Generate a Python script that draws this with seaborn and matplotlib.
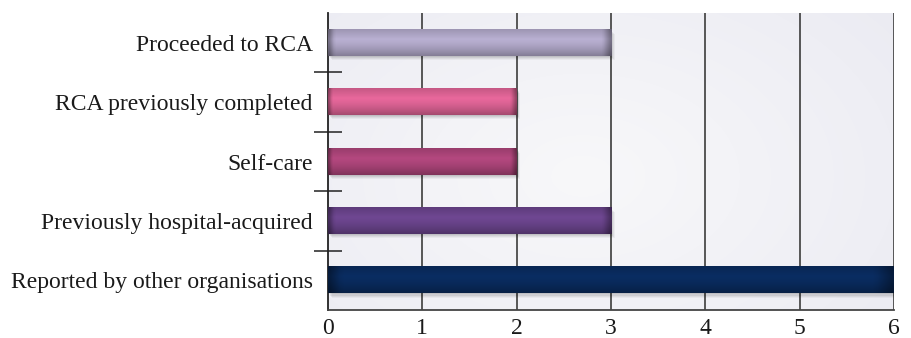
import numpy as np
import pandas as pd
import matplotlib
matplotlib.use("Agg")
import matplotlib.pyplot as plt
import seaborn as sns
from matplotlib.colors import to_rgb

categories = [
    "Proceeded to RCA",
    "RCA previously completed",
    "Self-care",
    "Previously hospital-acquired",
    "Reported by other organisations",
]
counts = [3, 2, 2, 3, 6]
bar_colors = ["#b9b0d2", "#e8689c", "#b4487f", "#6f4792", "#0a2d62"]
x_ticks = [0, 1, 2, 3, 4, 5, 6]

df = pd.DataFrame({"category": categories, "count": counts})

sns.set_theme(style="white")
plt.rcParams["font.family"] = ["Liberation Serif", "DejaVu Serif"]

fig = plt.figure(figsize=(9.12, 3.38), dpi=100)
ax = fig.add_axes([328 / 912, 1 - 310 / 338, (894 - 328) / 912, (310 - 13) / 338])

# soft diagonal background wash
gy, gx = np.mgrid[0:1:200j, 0:1:400j]
d = np.clip(1 - 0.9 * np.hypot(gx - 0.45, (gy - 0.55) * 0.8), 0, 1)
lo = np.array(to_rgb("#e4e4ee"))
hi = np.array(to_rgb("#f8f8fa"))
bg = lo + (hi - lo) * d[..., None]
ax.imshow(bg, extent=(0, 6, 4.5, -0.5), aspect="auto", zorder=0, interpolation="bilinear")

sns.barplot(data=df, x="count", y="category", hue="category", palette=bar_colors,
            width=0.44, legend=False, ax=ax, zorder=3, saturation=1)

# shaded cylinder look on each bar, with a soft drop shadow
for patch, col in zip(ax.patches, bar_colors):
    x0, y0 = patch.get_x(), patch.get_y()
    w, h = patch.get_width(), patch.get_height()
    base = np.array(to_rgb(col))
    t = np.linspace(0, 1, 60)
    shade = np.where(t < 0.35, 0.85 + 0.4 * t, 1.0 - 0.55 * (t - 0.35) ** 1.5)
    rows = np.clip(base[None, :] * shade[:, None], 0, 1)
    tx = np.linspace(0, 1, 120)
    edge = np.clip(np.minimum(tx / 0.02, (1 - tx) / 0.03), 0, 1) * 0.35 + 0.65
    img = rows[:, None, :] * edge[None, :, None]
    for k, a in enumerate([0.07, 0.06, 0.05, 0.04]):
        off = 0.01 * (k + 1)
        ax.add_patch(plt.Rectangle((x0 + off, y0 + 0.018 * (k + 1)), w, h, color="#000000",
                                   alpha=a, zorder=2, lw=0))
    ax.imshow(img, extent=(x0, x0 + w, y0 + h, y0), aspect="auto", zorder=4,
              interpolation="bilinear")
    patch.set_visible(False)

ax.set_xlim(0, 6)
ax.set_ylim(4.5, -0.5)
ax.set_xticks(x_ticks)
ax.set_xticklabels([str(v) for v in x_ticks])
ax.set_xlabel("")
ax.set_ylabel("")

ax.grid(False)
for v in x_ticks[1:]:
    ax.axvline(v, color="#4a4a4a", lw=1.3, zorder=1)

for side in ["top", "right"]:
    ax.spines[side].set_visible(False)
ax.spines["left"].set_color("#222222")
ax.spines["left"].set_linewidth(1.3)
ax.spines["bottom"].set_color("#444444")
ax.spines["bottom"].set_linewidth(1.3)

ax.tick_params(axis="y", which="major", left=False, length=0, pad=11, labelsize=17,
               labelcolor="#1a1a1a")
ax.tick_params(axis="x", which="major", bottom=False, length=0, pad=6, labelsize=17,
               labelcolor="#1a1a1a")
ax.set_yticks(np.arange(0.5, 4.0, 1.0), minor=True)
ax.tick_params(axis="y", which="minor", left=True, direction="inout", length=20, width=1.1,
               color="#222222")

fig.savefig("out.png", dpi=100, facecolor="white")
